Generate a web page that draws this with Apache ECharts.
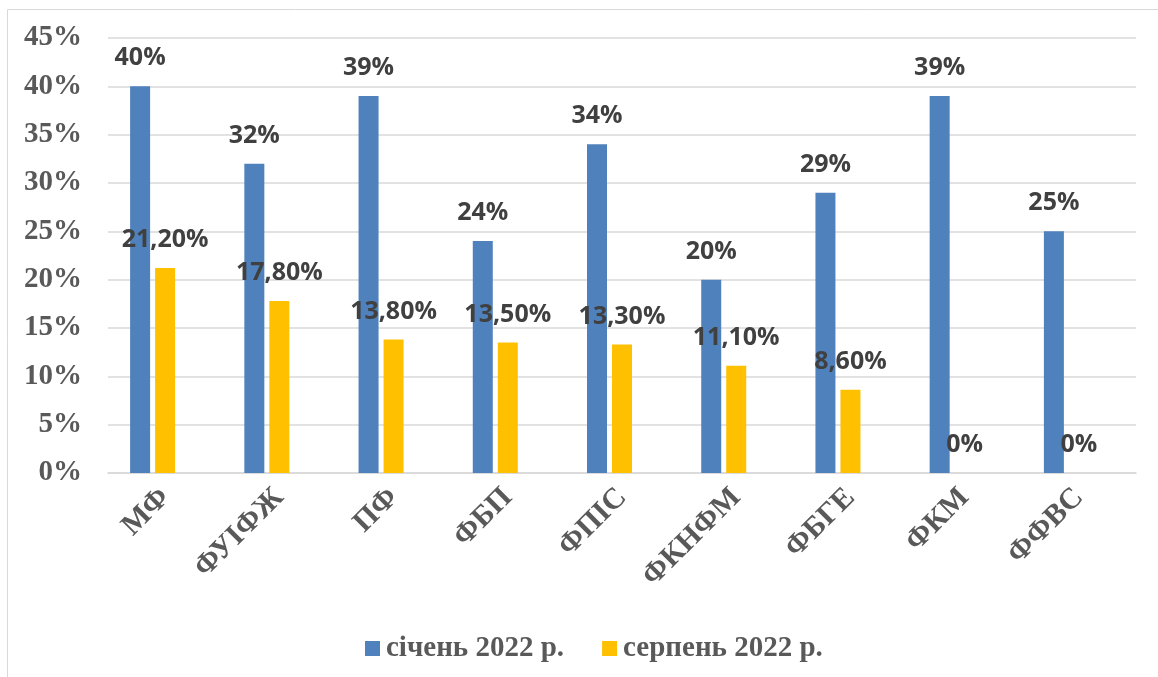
<!DOCTYPE html>
<html>
<head>
<meta charset="utf-8">
<script src="https://cdn.jsdelivr.net/npm/echarts@6/dist/echarts.min.js"></script>
<style>
  html, body { margin: 0; padding: 0; background: #fff; }
  #chart { width: 1158px; height: 677px; }
</style>
</head>
<body>
<div id="chart"></div>
<script>
// дані діаграми
const categories = ['МФ', 'ФУІФЖ', 'ПФ', 'ФБП', 'ФПІС', 'ФКНФМ', 'ФБГЕ', 'ФКМ', 'ФФВС']
const january = [40, 32, 39, 24, 34, 20, 29, 39, 25]
const august = [21.2, 17.8, 13.8, 13.5, 13.3, 11.1, 8.6, 0, 0]
const seriesNames = ['січень 2022 р.', 'серпень 2022 р.']
const yTicks = [0, 5, 10, 15, 20, 25, 30, 35, 40, 45]

const chart = echarts.init(document.getElementById('chart'))

const labelStyle = {
  show: true,
  position: 'top',
  distance: 13,
  color: '#404040',
  fontFamily: 'Open Sans',
  fontWeight: 'bold',
  fontSize: 25,
  lineHeight: 30
}

const option = {
  animation: false,
  graphic: [
    {
      type: 'rect',
      shape: { x: 7.5, y: 9.5, width: 1200, height: 700 },
      style: { fill: 'none', stroke: '#D9D9D9', lineWidth: 1 },
      silent: true
    }
  ],
  legend: {
    data: seriesNames,
    left: 360,
    top: 629,
    itemWidth: 15,
    itemHeight: 15,
    itemGap: 38,
    icon: 'rect',
    textStyle: {
      fontFamily: 'Liberation Serif',
      fontWeight: 'bold',
      fontSize: 29,
      color: '#595959',
      padding: [0, 0, 0, 1]
    }
  },
  grid: {
    left: 108,
    right: 22,
    top: 38,
    bottom: 204
  },
  xAxis: {
    type: 'category',
    data: categories,
    axisLine: { show: true, lineStyle: { color: '#D9D9D9', width: 1.5 } },
    axisTick: { show: false },
    axisLabel: {
      rotate: 45,
      margin: 20,
      interval: 0,
      color: '#595959',
      fontFamily: 'Liberation Serif',
      fontWeight: 'bold',
      fontSize: 30
    }
  },
  yAxis: {
    type: 'value',
    min: yTicks[0],
    max: yTicks[yTicks.length - 1],
    interval: 5,
    axisLine: { show: false },
    axisTick: { show: false },
    splitLine: { lineStyle: { color: '#D9D9D9', width: 1.5 } },
    axisLabel: {
      margin: 26,
      color: '#595959',
      fontFamily: 'Liberation Serif',
      fontWeight: 'bold',
      fontSize: 29,
      formatter: v => v + '%'
    }
  },
  series: [
    {
      name: seriesNames[0],
      type: 'bar',
      data: january,
      barWidth: 20,
      barGap: '25%',
      itemStyle: { color: '#4F81BD' },
      label: Object.assign({}, labelStyle, { formatter: p => p.value + '%' })
    },
    {
      name: seriesNames[1],
      type: 'bar',
      data: august,
      barWidth: 20,
      barGap: '25%',
      itemStyle: { color: '#FFC000' },
      label: Object.assign({}, labelStyle, {
        formatter: p => (p.value === 0 ? '0%' : p.value.toFixed(2).replace('.', ',') + '%')
      })
    },
    {
      // порожня серія, щоб зсунути пару стовпців ліворуч, як у оригіналі
      name: 'spacer',
      type: 'bar',
      data: [],
      barWidth: 20,
      barGap: '25%',
      silent: true
    }
  ]
}

chart.setOption(option)
</script>
</body>
</html>
